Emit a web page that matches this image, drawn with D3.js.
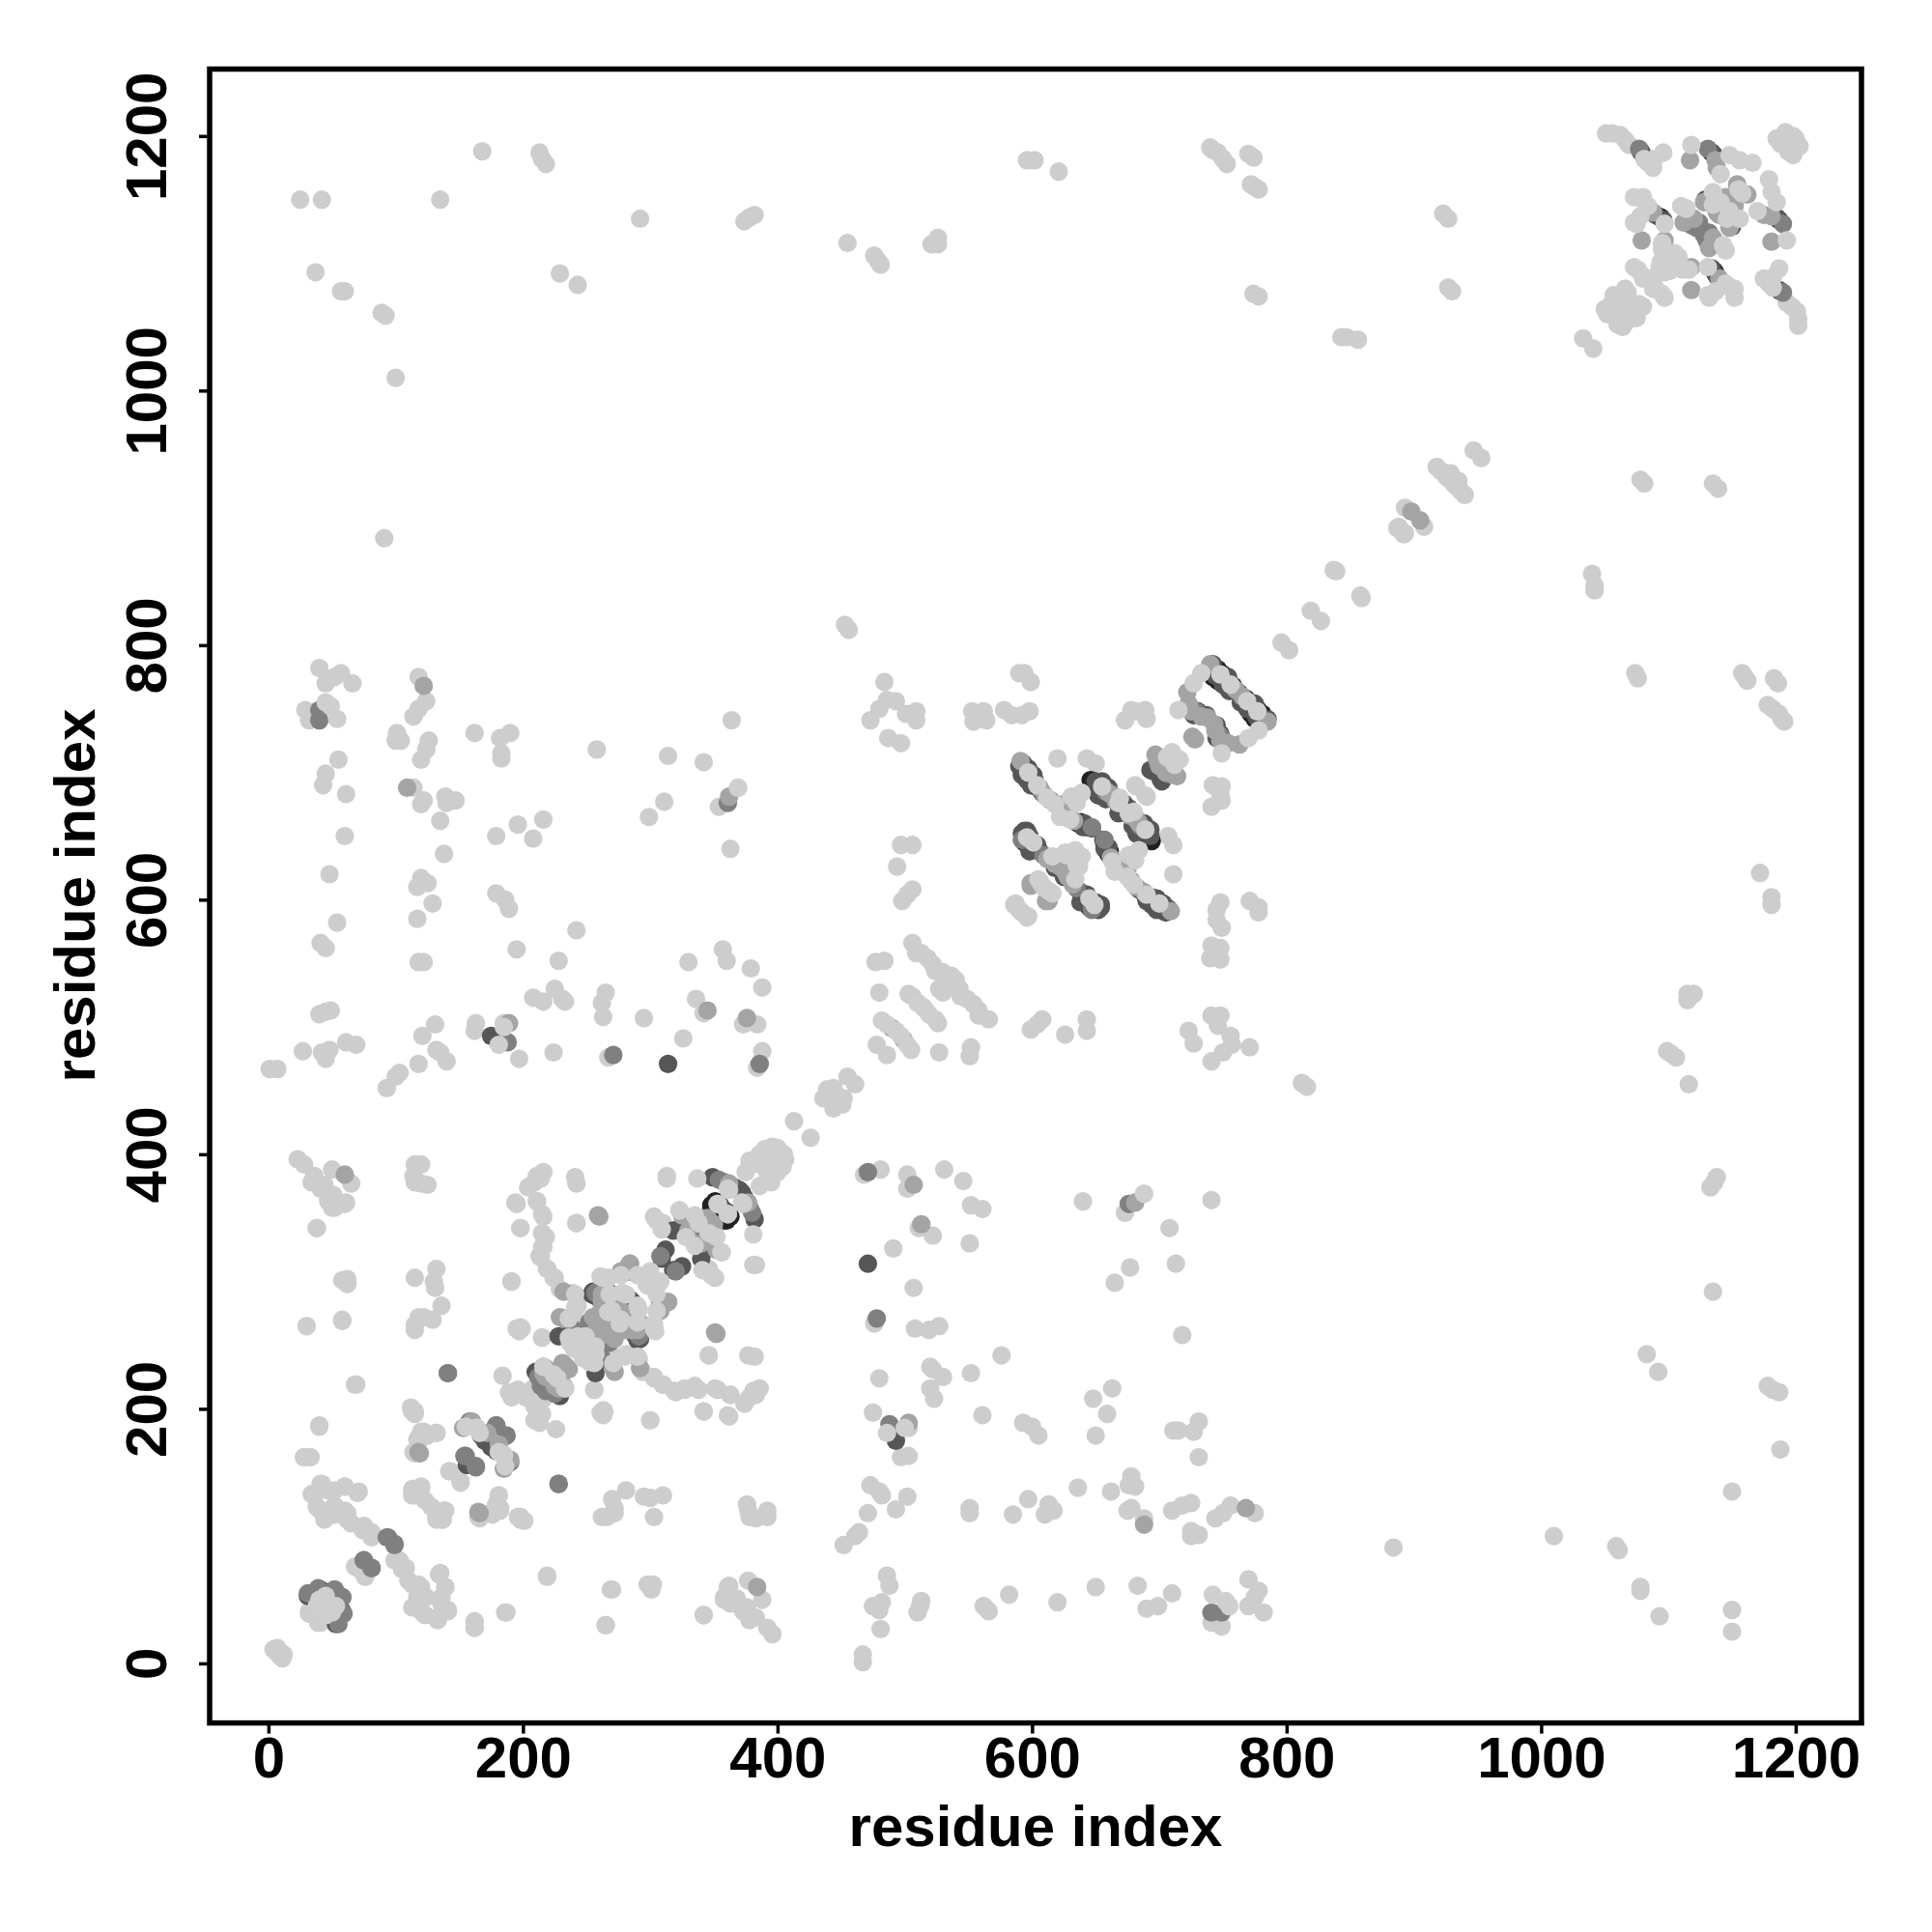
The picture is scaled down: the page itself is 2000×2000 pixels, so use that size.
<!DOCTYPE html>
<html>
<head>
<meta charset="utf-8">
<script src="https://d3js.org/d3.v7.min.js"></script>
<style>html,body{margin:0;padding:0;background:#fff}</style>
</head>
<body>
<div id="chart"></div>
<script>
const axisTicks = [0,200,400,600,800,1000,1200];
const xTitle = "residue index";
const yTitle = "residue index";

// Each contact is [residue i, residue j]; the map is symmetric so every pair is also drawn as [j, i].
const lightContacts = [
[25,1150],[42,1150],[135,1150],[168,1188],[213,1187],[215,1182],[218,1178],[292,1135],[374,1133],[378,1136],[382,1138],[37,1093],[57,1078],[60,1078],[89,1061],[92,1059],[100,1010],[229,1092],[243,1083],[91,884],
[455,1116],[476,1106],[479,1102],[481,1099],[521,1115],[526,1120],[526,1115],[596,1181],[602,1181],[621,1172],[740,1191],[742,1189],[746,1187],[750,1182],[753,1178],[770,1186],[774,1183],[772,1162],[775,1160],[778,1158],[774,1076],[778,1074],[453,816],[456,812],
[923,1139],[927,1135],[927,1081],[930,1078],[843,1042],[847,1042],[856,1040],[1033,1041],[947,953],[918,940],[921,937],[925,933],[927,931],[929,935],[893,908],[887,892],[888,893],[837,859],[839,858],[819,827],[796,802],
[1050,1064],[1052,1060],[1056,1061],[1057,1075],[1060,1070],[1063,1068],[1066,1080],[1068,1077],[1055,1068],[1058,1066],[1051,1202],[1056,1202],[1062,1201],[1066,1197],[1069,1193],[1185,1198],[1190,1200],[1195,1199],[1193,1194],[1188,1194],[1192,1203],[1198,1200],
[484,771],[473,741],[480,750],[486,757],[493,756],[501,746],[509,748],[509,741],[487,727],[497,723],[590,778],[594,778],[599,771],[553,748],[562,748],[554,740],[564,741],[578,749],[584,745],[592,745],[598,748],[673,741],[678,749],[689,749],[690,742],[682,748],[620,711],[643,711],[650,707],[681,690],[682,689],[587,597],[586,596],[590,592],
[506,566],[509,558],[518,554],[522,549],[524,544],[530,543],[533,539],[537,540],[513,558],[527,530],[477,551],[484,552],[480,527],[503,526],[506,524],[478,486],[506,608],[502,604],[498,599],[494,626],[497,643],[506,643],[455,461],[439,451],[436,444],[441,448],[444,452],[446,446],[413,426],[396,406],[404,394],
[40,782],[45,770],[52,775],[57,778],[66,770],[29,749],[32,741],[118,775],[124,756],[118,750],[114,744],[100,725],[101,731],[104,725],[126,725],[124,718],[120,710],[162,731],[182,727],[190,731],[183,711],[183,715],[258,718],[314,713],[342,708],[369,688],[354,673],[311,677],[299,665],[363,640],[364,741],[55,710],[45,699],[43,690],[61,683],[114,688],[122,678],[120,675],[139,681],[140,676],[147,678],[135,662],[138,636],[60,650],[179,650],[196,659],[208,648],[216,663],[48,620],[120,617],[117,610],[125,613],[129,597],[117,585],[179,605],[186,600],[189,593],[54,582],[41,566],[45,562],[118,551],[122,551],[242,576],[195,561],[228,552],[330,551],[357,561],[360,552],[379,546],[388,531],[336,522],[342,511],[373,502],[384,502],[295,507],[326,491],[388,481],[384,468],[267,476],[224,480],[197,475],[163,503],[162,497],[185,503],[208,523],[216,520],[225,530],[231,522],[233,520],[265,527],[262,519],[263,508],[40,510],[45,512],[49,513],[61,488],[69,486],[48,482],[45,475],[42,480],[27,481],[1,467],[7,467],[131,502],[121,493],[118,471],[135,480],[140,473],[132,482],[100,461],[93,452],[103,464],
[23,396],[28,392],[36,383],[50,388],[115,392],[120,392],[114,383],[216,386],[211,383],[241,382],[313,383],
[34,378],[44,376],[51,368],[50,358],[61,362],[65,377],[41,373],[47,363],[115,378],[125,376],[120,377],[38,342],[61,300],[58,301],[115,303],[132,310],[130,300],[131,295],[136,281],[129,270],[118,272],[115,266],[115,262],[122,272],[58,270],[30,265],[68,219],[184,226],[112,201],[115,198],[40,187],[28,162],[33,162],[120,182],[117,176],[132,181],[125,179],[114,166],[142,151],[151,143],[198,113],[196,115],[181,132],[182,122],[176,119],[165,115],[113,137],[120,139],[115,132],[128,123],[138,120],[136,113],[132,113],[41,141],[34,133],[47,136],[41,120],[60,139],[70,134],[50,118],[44,117],[38,123],[62,118],[65,110],[74,105],[81,99],[103,81],[108,75],[113,62],[120,60],[113,44],[122,39],[132,36],[141,42],[136,52],[117,52],[124,52],[135,71],[139,60],[68,76],[75,70],[186,40],[162,28],[162,33],[219,69],[269,58],[298,62],[302,62],[265,30],[342,38],[361,60],[358,52],[366,47],[32,41],[39,32],[4,11],[6,9],[7,12],
[194,362],[198,342],[204,374],[209,378],[214,381],[211,363],[215,353],[215,338],[215,327],[213,320],[219,310],[224,303],[242,346],[242,377],[191,300],[195,263],[199,263],[215,256],[313,381],[189,213],[196,215],[202,209],[208,216],[191,209],[256,215],[261,197],[264,198],[300,191],[342,198],[361,195],[270,242],[281,243],[291,239],[294,229],[303,225],[310,219],[319,214],[327,216],[335,218],[351,216],[363,211],[346,242],[303,351],[310,346]
];
const blackContacts = [
[747,776],[751,775],[755,771],[758,768],[730,748],[649,690],[638,661],[643,657],[598,643],[601,641],[600,693],[594,700],[351,363],[348,360],[358,348],[46,43],[1092,1137],[1094,1136],[1134,1187],
[745,778],[749,773],[753,770],[756,768],[598,695],[594,702],[636,660],[650,688],[652,692],[647,691],[596,646],[598,641],[600,640],[746,781],[750,777],[742,775],[746,772],[646,694],[656,688],[594,645]
];
const darkContacts = [
[743,779],[762,763],[737,745],[693,702],[695,701],[593,703],[597,698],[655,693],[673,669],[647,656],[596,654],[603,639],[618,625],[58,41],[53,31],[41,50],[314,471],[255,292],[257,234],[228,257],[210,229],[215,220],[223,216],[277,290],[286,284],[308,284],[309,318],[322,341],[334,334],[328,336],[349,382],[366,374],[370,372],[355,360],[1079,1187],[1129,1150],[1136,1145],[175,493],[167,179],[175,170],[156,156],
[590,705],[595,702],[599,697],[602,694],[603,689],[608,684],[640,657],[641,660],[654,686],[658,683],[664,680],[672,672],[676,668],[670,670],[594,650],[597,647],[600,643],[603,640],[606,638],[741,782],[744,776],[757,766],[727,745],[731,746],[735,745],[254,290],[258,288],[270,285],[282,285],[330,338],[318,340],[312,325],[1090,1138],[1096,1134],[1136,1185],[1078,1188],
[593,707],[597,703],[601,698],[592,698],[596,694],[599,690],[650,693],[660,688],[652,682],[658,679],[668,668],[671,676],[676,672],[592,652],[594,654],[598,650],[598,638],[604,643],[742,785],[754,775],[738,780],[750,769],[755,764]
];
const midDarkContacts = [
[699,707],[729,748],[647,657],[592,647],[609,635],[628,624],[658,685],[680,665],[31,55],[36,55],[39,59],[52,58],[58,52],[141,228],[228,141],[93,99],[99,94],[75,81],[81,75],[154,163],[163,155],[179,187],[187,179],[158,190],[267,292],[320,308],[291,257],[361,676],[40,741],[40,749],[188,488],[386,471],[271,478],[1077,1190],[1131,1190],[1116,1135],[1124,1132],[354,380],[358,378],
[288,262],[292,258],[258,250],[262,240],[252,268],[212,225],[214,218],[220,222],[222,215],[1118,1130],[1122,1128],[1126,1126],[1130,1124],[1134,1120]
];
const midContacts = [
[591,709],[606,688],[624,675],[663,682],[722,763],[723,754],[726,728],[697,714],[698,711],[700,705],[490,499],[599,613],[611,599],[362,681],[122,768],[109,688],[345,513],[376,507],[189,503],[118,166],[153,185],[172,181],[190,160],[259,352],[232,292],[229,272],[236,231],[233,216],[233,234],[271,232],[261,268],[255,272],[270,257],[277,308],[284,314],[314,284],[351,260],[338,348],[165,119],[60,384],[898,905],[1117,1181],[1137,1181],[1138,1175],[1079,1118],[1154,1162],[1118,1097],[1145,1152],[1138,1140],[1088,1140],[362,377],
[610,682],[615,678],[625,668],[633,662],[660,684],[666,677],[668,676],[682,663],[612,632],[618,628],[622,626],[760,765],[740,785],[725,748],[733,744],[738,743],[262,290],[270,288],[275,280],[258,262],[262,258],[268,262],[280,262],[285,262],[288,272],[325,352],[330,340],[340,345],[345,350],[335,345],[350,340],[216,228],[225,218],[218,232],[1112,1132],[1120,1135],[1128,1148],[1132,1150],[1142,1142]
];
const paleContacts = [
[733,778],[727,770],[715,749],[612,680],[618,675],[622,665],[630,663],[605,616],[613,607],[609,610],[616,634],[626,637],[634,639],[635,627],[631,681],[639,684],[635,676],[669,680],[596,649],[597,700],[604,690],[655,689],[668,676],[601,645],[748,777],[756,769],
[482,505],[497,493],[502,486],[510,519],[514,516],[706,712],[710,715],[716,710],
[45,755],[49,752],[54,742],[369,688],[185,500],[181,486],[164,185],[181,166],[186,155],[163,185],[40,50],[50,41],[45,53],[38,45],
[216,233],[240,247],[252,237],[249,247],[257,249],[243,257],[236,256],[236,271],[241,280],[241,290],[227,224],[261,304],[267,303],[290,305],[300,305],[308,300],[298,297],[281,290],[290,268],[291,278],[303,263],[305,277],[267,276],[277,270],[323,356],[346,338],[335,328],[352,335],[356,323],[348,305],[341,309],[353,361],[361,353],[337,381],[361,373],[380,392],[386,400],[390,404],[395,402],[384,396],[392,398],[375,386],[388,391],[400,405],[378,395],[396,394],[362,372],
[1084,1179],[1088,1175],[1096,1187],[1089,1182],[1081,1182],[1118,1193],[1141,1170],[1148,1185],[1156,1181],[1166,1179],[1073,1152],[1080,1152],[1084,1145],[1097,1131],[1073,1132],[1078,1137],[1095,1116],[1108,1105],[1111,1095],[1073,1097],[1080,1090],[1088,1086],[1093,1097],[1095,1076],[1088,1080],[1101,1094],[1114,1143],[1110,1145],[1135,1156],[1135,1146],[1141,1148],[1150,1080],[1131,1075],[1143,1114],[1158,1155]
];

const W = 2000, H = 2000;
const x = d3.scaleLinear().domain([-46.2,1251.7]).range([217,1927]);
const y = d3.scaleLinear().domain([-46.8,1252.6]).range([1783.6,71.5]);

const svg = d3.select("#chart").append("svg").attr("width",W).attr("height",H)
  .style("display","block").style("background","#fff");

const layers = [
  [lightContacts,"#cdcdcd"],
  [blackContacts,"#222222"],
  [darkContacts,"#565656"],
  [midDarkContacts,"#808080"],
  [midContacts,"#a4a4a4"],
  [paleContacts,"#cfcfcf"]
];
layers.forEach(([pairs,color]) => {
  const both = pairs.flatMap(p => [p,[p[1],p[0]]]);
  svg.append("g").selectAll("circle").data(both).join("circle")
    .attr("cx",d=>x(d[0])).attr("cy",d=>y(d[1])).attr("r",9.6).attr("fill",color);
});

const font = "'Liberation Sans',Arial,sans-serif";
const gx = svg.append("g").attr("transform","translate(0,1783.6)")
  .call(d3.axisBottom(x).tickValues(axisTicks).tickSize(11).tickFormat(d3.format("d")));
const gy = svg.append("g").attr("transform","translate(217,0)")
  .call(d3.axisLeft(y).tickValues(axisTicks).tickSize(11).tickFormat(d3.format("d")));
[gx,gy].forEach(g=>{
  g.select(".domain").remove();
  g.selectAll("line").attr("stroke","#000").attr("stroke-width",3.5);
  g.selectAll("text").attr("font-family",font).attr("font-weight","bold").attr("font-size",60).attr("fill","#000");
});
gx.selectAll("text").attr("dy",null).attr("y",56.5).attr("text-anchor","middle");
gy.selectAll("text").attr("dy",null).attr("x",null)
  .attr("transform",`translate(-45,0) rotate(-90)`).attr("y",0).attr("text-anchor","middle");

svg.append("rect").attr("x",217).attr("y",71.5).attr("width",1710).attr("height",1712.1)
  .attr("fill","none").attr("stroke","#000").attr("stroke-width",5.5);

svg.append("text").attr("x",1072).attr("y",1911).attr("text-anchor","middle")
  .attr("font-family",font).attr("font-weight","bold").attr("font-size",60).text(xTitle);
svg.append("text").attr("transform","translate(98,927) rotate(-90)").attr("text-anchor","middle")
  .attr("font-family",font).attr("font-weight","bold").attr("font-size",60).text(yTitle);
</script>
</body>
</html>
